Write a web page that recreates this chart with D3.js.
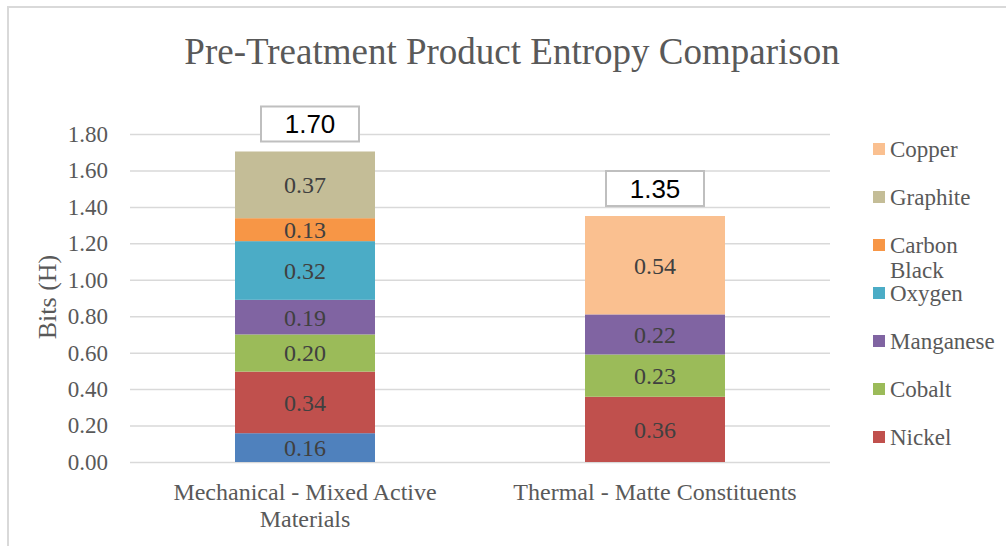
<!DOCTYPE html>
<html>
<head>
<meta charset="utf-8">
<script src="https://cdn.jsdelivr.net/npm/d3@7"></script>
<style>
  body { margin: 0; background: #fff; }
  text { font-family: "Liberation Serif", "Times New Roman", serif; }
</style>
</head>
<body>
<div id="chart"></div>
<script>
// data
var categories = ["Mechanical - Mixed Active Materials", "Thermal - Matte Constituents"];
var categoryLines = [["Mechanical - Mixed Active", "Materials"], ["Thermal - Matte Constituents"]];
var seriesNames = ["Lithium", "Nickel", "Cobalt", "Manganese", "Oxygen", "Carbon Black", "Graphite", "Copper"];
var lithium     = [0.158, 0];
var nickel      = [0.338, 0.358];
var cobalt      = [0.204, 0.232];
var manganese   = [0.190, 0.220];
var oxygen      = [0.322, 0];
var carbonBlack = [0.126, 0];
var graphite    = [0.366, 0];
var copper      = [0, 0.540];
var yTicks = [0, 0.2, 0.4, 0.6, 0.8, 1.0, 1.2, 1.4, 1.6, 1.8];
// legend in the picture (the bottom entry is cut off)
var legendNames = ["Copper", "Graphite", "Carbon Black", "Oxygen", "Manganese", "Cobalt", "Nickel"];

var colors = {
  "Lithium": "#4f81bd", "Nickel": "#c0504d", "Cobalt": "#9bbb59", "Manganese": "#8064a2",
  "Oxygen": "#4bacc6", "Carbon Black": "#f79646", "Graphite": "#c4bd97", "Copper": "#fac090"
};

var seriesValues = [lithium, nickel, cobalt, manganese, oxygen, carbonBlack, graphite, copper];

// build table for d3.stack
var table = categories.map(function(c, i) {
  var row = {category: c};
  seriesNames.forEach(function(s, j) { row[s] = seriesValues[j][i]; });
  return row;
});
var totals = table.map(function(r) { return d3.sum(seriesNames, function(s) { return r[s]; }); });

var W = 1006, H = 546;
var margin = {top: 134, left: 130},
    width = 700,
    height = 328;

var svg = d3.select("#chart").append("svg")
  .attr("width", W).attr("height", H);

// chart frame
svg.append("rect")
  .attr("x", 8).attr("y", 7)
  .attr("width", W + 10).attr("height", H + 10)
  .style("fill", "none").style("stroke", "#d9d9d9").style("stroke-width", 2);

svg.append("text")
  .attr("x", 512).attr("y", 64)
  .style("text-anchor", "middle")
  .style("font-size", "37px")
  .style("fill", "#595959")
  .text("Pre-Treatment Product Entropy Comparison");

var g = svg.append("g")
  .attr("transform", "translate(" + margin.left + "," + margin.top + ")");

var x = d3.scaleBand()
  .domain(categories)
  .range([0, width])
  .paddingInner(0.6)
  .paddingOuter(0.3);

var y = d3.scaleLinear()
  .domain([0, 1.8])
  .range([height, 0]);

// y axis with gridlines
var yAxis = g.append("g")
  .call(d3.axisLeft(y)
    .tickValues(yTicks)
    .tickSize(-width)
    .tickPadding(22)
    .tickFormat(d3.format(".2f")));
yAxis.select(".domain").remove();
yAxis.selectAll(".tick line")
  .style("stroke", "#d9d9d9").style("stroke-width", 1.5);
yAxis.selectAll(".tick text")
  .style("font-family", "Liberation Serif")
  .style("font-size", "23px")
  .style("fill", "#595959");

// y axis title
svg.append("text")
  .attr("transform", "rotate(-90)")
  .attr("x", -297)
  .attr("y", 56)
  .style("text-anchor", "middle")
  .style("font-size", "26px")
  .style("fill", "#595959")
  .text("Bits (H)");

// x axis labels
var xAxis = g.append("g")
  .attr("transform", "translate(0," + height + ")")
  .call(d3.axisBottom(x).tickSize(0).tickFormat(""));
xAxis.select(".domain").remove();
xAxis.selectAll(".tick").each(function(d, i) {
  var t = d3.select(this).append("text")
    .attr("y", 38)
    .style("text-anchor", "middle")
    .style("font-family", "Liberation Serif")
    .style("font-size", "24px")
    .style("fill", "#595959");
  categoryLines[i].forEach(function(line, k) {
    t.append("tspan").attr("x", 0).attr("dy", k === 0 ? 0 : 27).text(line);
  });
});

// stacked bars
var stack = d3.stack().keys(seriesNames);
var layers = stack(table);

var layer = g.selectAll(".layer")
  .data(layers)
  .enter().append("g")
    .attr("class", "layer")
    .style("fill", function(d) { return colors[d.key]; });

layer.selectAll("rect")
  .data(function(d) { return d.filter(function(p) { return p[1] - p[0] > 0; }); })
  .enter().append("rect")
    .attr("x", function(d) { return x(d.data.category); })
    .attr("y", function(d) { return y(d[1]); })
    .attr("width", x.bandwidth())
    .attr("height", function(d) { return y(d[0]) - y(d[1]); });

layer.selectAll(".seg-label")
  .data(function(d) { return d.filter(function(p) { return p[1] - p[0] > 0; }); })
  .enter().append("text")
    .attr("class", "seg-label")
    .attr("x", function(d) { return x(d.data.category) + x.bandwidth() / 2; })
    .attr("y", function(d) { return y((d[0] + d[1]) / 2); })
    .attr("dy", "0.35em")
    .style("text-anchor", "middle")
    .style("font-size", "24px")
    .style("fill", "#404040")
    .text(function(d) { return d3.format(".2f")(d[1] - d[0]); });

// total boxes
var boxW = 98, boxH = 35;
var totalG = g.selectAll(".total")
  .data(categories)
  .enter().append("g")
    .attr("class", "total")
    .attr("transform", function(c, i) {
      return "translate(" + (x(c) + x.bandwidth() / 2 + (i === 0 ? 5 : 0)) + "," + (y(totals[i]) - 10 - boxH) + ")";
    });
totalG.append("rect")
  .attr("x", -boxW / 2).attr("y", 0)
  .attr("width", boxW).attr("height", boxH)
  .style("fill", "#fff").style("stroke", "#bfbfbf").style("stroke-width", 2);
totalG.append("text")
  .attr("x", 0).attr("y", boxH / 2)
  .attr("dy", "0.36em")
  .style("text-anchor", "middle")
  .style("font-family", "Liberation Sans, Arial, sans-serif")
  .style("font-size", "26px")
  .style("fill", "#000")
  .text(function(c, i) { return d3.format(".2f")(totals[i]); });

// legend
var legend = svg.append("g").attr("transform", "translate(873,149)");
var legendY = 0;
legendNames.forEach(function(name) {
  var item = legend.append("g").attr("transform", "translate(0," + legendY + ")");
  item.append("rect")
    .attr("x", 0).attr("y", -6)
    .attr("width", 12).attr("height", 12)
    .style("fill", colors[name]);
  var words = name.split(" ");
  var t = item.append("text")
    .attr("x", 17).attr("y", 0)
    .style("font-size", "23px")
    .style("fill", "#595959");
  words.forEach(function(w, k) {
    t.append("tspan").attr("x", 17).attr("dy", k === 0 ? "0.35em" : 25).text(w);
  });
  legendY += 48;
});
</script>
</body>
</html>
